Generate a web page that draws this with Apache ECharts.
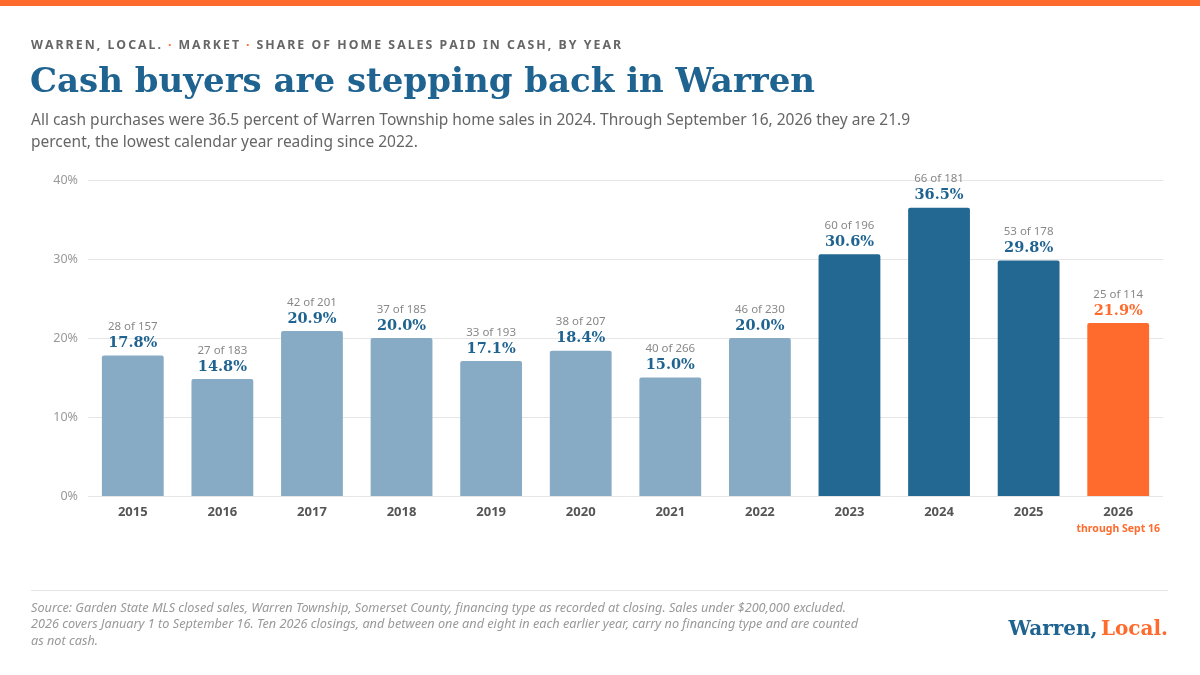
<!DOCTYPE html>
<html>
<head>
<meta charset="utf-8">
<script src="https://cdn.jsdelivr.net/npm/echarts@6/dist/echarts.min.js"></script>
<style>
html,body{margin:0;padding:0;background:#fff;}
#chart{width:1200px;height:675px;}
</style>
</head>
<body>
<div id="chart"></div>
<script>
const years = ['2015','2016','2017','2018','2019','2020','2021','2022','2023','2024','2025','2026'];
const sharePct = [17.8,14.8,20.9,20.0,17.1,18.4,15.0,20.0,30.6,36.5,29.8,21.9];
const cashSales = [28,27,42,37,33,38,40,46,60,66,53,25];
const totalSales = [157,183,201,185,193,207,266,230,196,181,178,114];
const period = ['past','past','past','past','past','past','past','past','recent','recent','recent','partial'];
const yearNotes = ['','','','','','','','','','','','through Sept 16'];
const yTicks = [0,10,20,30,40];

const BLUE = '#236892';
const LIGHT = '#87abc5';
const ORANGE = '#ff6b2c';
const SANS = '"Noto Sans", "Open Sans", sans-serif';
const SERIF = '"DejaVu Serif", "Liberation Serif", serif';

const colorFor = p => p === 'past' ? LIGHT : (p === 'recent' ? BLUE : ORANGE);
const spaced = s => s.split('').join('\u2009');

const chart = echarts.init(document.getElementById('chart'));

const barData = sharePct.map((v, i) => ({
  value: v,
  itemStyle: { color: colorFor(period[i]) },
  label: {
    rich: {
      n: { fontFamily: SANS, fontSize: 11.5, color: '#888', lineHeight: 15, align: 'center' },
      v: { fontFamily: SERIF, fontWeight: 'bold', fontSize: 14.5, color: period[i] === 'partial' ? ORANGE : '#1f6391', lineHeight: 18, align: 'center' }
    }
  }
}));

chart.setOption({
  animation: false,
  grid: { left: 88, right: 37, top: 180, bottom: 179, containLabel: false },
  xAxis: {
    type: 'category',
    data: years,
    axisLine: { show: false },
    axisTick: { show: false },
    axisLabel: {
      margin: 7,
      interval: 0,
      formatter: (val, idx) => {
        const note = yearNotes[idx];
        return note ? '{y|' + val + '}\n{n|' + note + '}' : '{y|' + val + '}';
      },
      rich: {
        y: { fontFamily: SANS, fontWeight: 'bold', fontSize: 13, color: '#555', lineHeight: 18 },
        n: { fontFamily: SANS, fontWeight: 'bold', fontSize: 10.5, color: ORANGE, lineHeight: 16 }
      }
    }
  },
  yAxis: {
    type: 'value',
    min: 0, max: 40, interval: 10,
    axisLine: { show: false },
    axisTick: { show: false },
    splitLine: { lineStyle: { color: '#e6e6e6', width: 1 } },
    axisLabel: {
      margin: 10,
      fontFamily: SANS, fontSize: 12.5, color: '#999',
      formatter: v => yTicks.includes(v) ? v + '%' : ''
    }
  },
  series: [{
    type: 'bar',
    data: barData,
    barWidth: '69%',
    itemStyle: { borderRadius: [2,2,0,0] },
    label: {
      show: true,
      position: 'top',
      distance: 3,
      formatter: p => '{n|' + cashSales[p.dataIndex] + ' of ' + totalSales[p.dataIndex] + '}\n{v|' + sharePct[p.dataIndex].toFixed(1) + '%}'
    }
  }],
  graphic: [
    { type: 'rect', shape: { x: 0, y: 0, width: 1200, height: 6 }, style: { fill: ORANGE } },
    { type: 'text', left: 31, top: 39, style: {
        text: '{a|' + spaced('WARREN, LOCAL.') + '}{d|·}{a|' + spaced('MARKET') + '}{d|·}{a|' + spaced('SHARE OF HOME SALES PAID IN CASH, BY YEAR') + '}',
        rich: {
          a: { fontFamily: SANS, fontWeight: 'bold', fontSize: 12.3, fill: '#666' },
          d: { fontFamily: SANS, fontWeight: 'bold', fontSize: 12.3, fill: ORANGE, padding: [0, 7, 0, 7] }
        }
    } },
    { type: 'text', left: 30, top: 66, style: {
        text: 'Cash buyers are stepping back in Warren',
        fontFamily: SERIF, fontWeight: 'bold', fontSize: 34, fill: '#1f6391'
    } },
    { type: 'text', left: 31, top: 110, style: {
        text: 'All cash purchases were 36.5 percent of Warren Township home sales in 2024. Through September 16, 2026 they are 21.9\npercent, the lowest calendar year reading since 2022.',
        fontFamily: SANS, fontSize: 15.5, fill: '#666', lineHeight: 22
    } },
    { type: 'rect', shape: { x: 31, y: 590, width: 1137, height: 1 }, style: { fill: '#e4e4e4' } },
    { type: 'text', left: 31, top: 600, style: {
        text: 'Source: Garden State MLS closed sales, Warren Township, Somerset County, financing type as recorded at closing. Sales under $200,000 excluded.\n2026 covers January 1 to September 16. Ten 2026 closings, and between one and eight in each earlier year, carry no financing type and are counted\nas not cash.',
        fontFamily: SANS, fontStyle: 'italic', fontSize: 12.7, fill: '#999', lineHeight: 16.5
    } },
    { type: 'text', right: 32, top: 620, style: {
        text: '{b|Warren,} {o|Local.}',
        rich: {
          b: { fontFamily: SERIF, fontWeight: 'bold', fontSize: 20, fill: '#1f6391' },
          o: { fontFamily: SERIF, fontWeight: 'bold', fontSize: 20, fill: ORANGE }
        }
    } }
  ]
});
</script>
</body>
</html>
